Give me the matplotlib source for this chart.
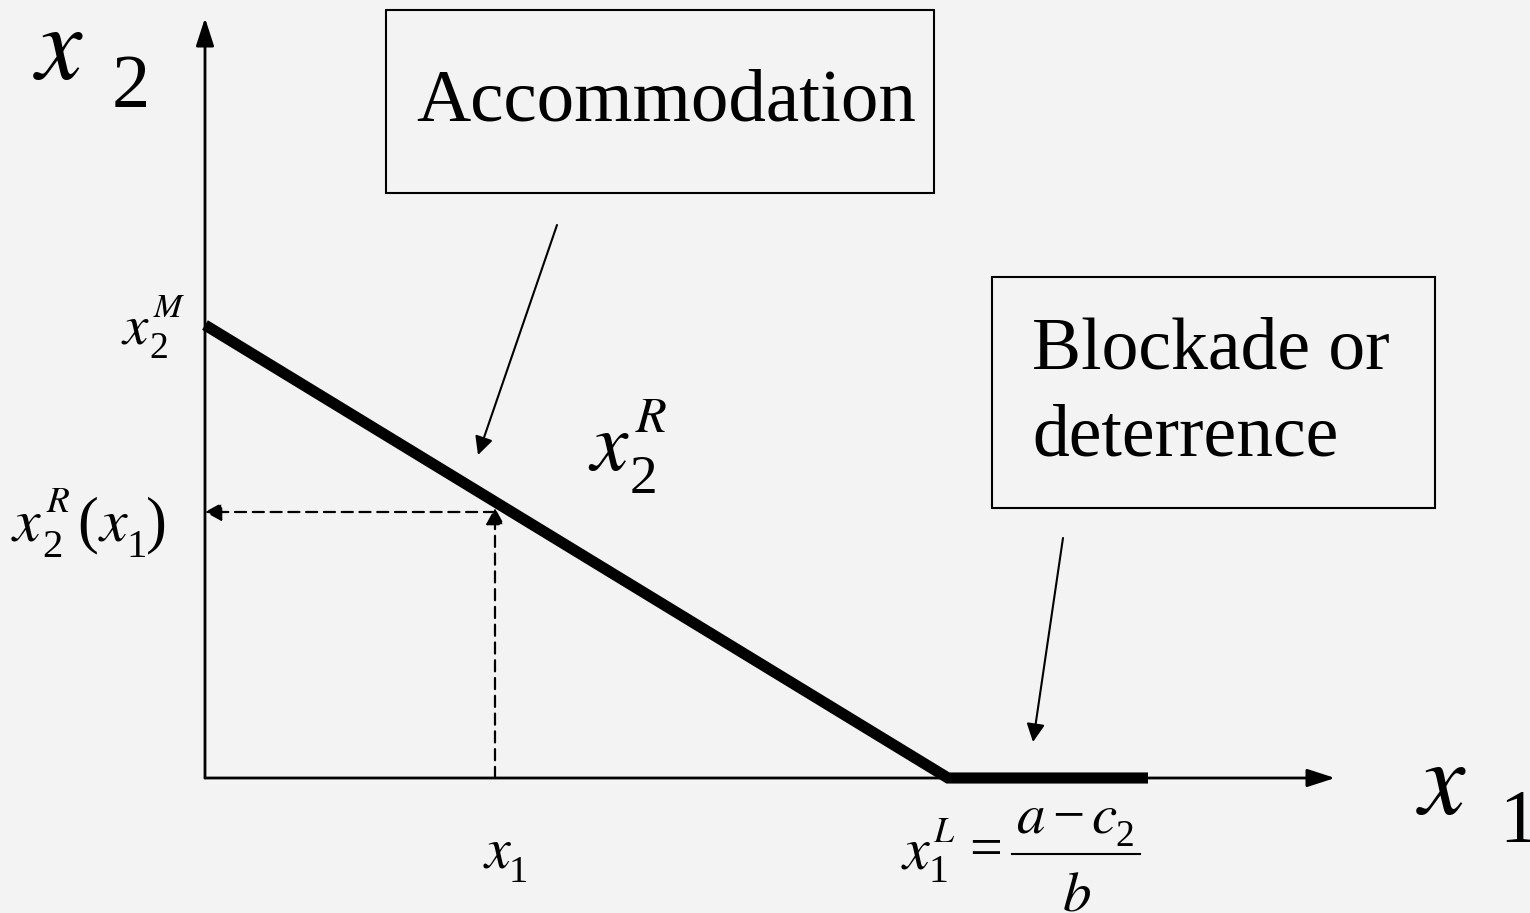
import numpy as np
import matplotlib.pyplot as plt
from matplotlib.patches import Rectangle

plt.rcParams["font.family"] = ["Liberation Serif", "DejaVu Serif"]
ITAL = dict(family="STIXGeneral", style="italic")

# reaction function x2^R(x1): kinked line (in pixel-sized chart units)
x2_monopoly = 453      # x2^M, intercept on the x2 axis
x1_limit = 743         # x1^L = (a - c2) / b
x1_end = 943           # end of the flat part
x1_chosen = 290        # example x1
x2_reply = 266         # x2^R(x1)

line_x = [0, x1_limit, x1_end]
line_y = [x2_monopoly, 0, 0]

bg = "#f3f3f3"
OX, OY = 205, 778      # pixel position of the origin


def P(px, py):
    # picture pixel -> chart units
    return px - OX, OY - py


fig = plt.figure(figsize=(15.3, 9.13), dpi=100, facecolor=bg)
ax = fig.add_axes([0, 0, 1, 1])
ax.set_facecolor(bg)
ax.set_xlim(-OX, 1530 - OX)
ax.set_ylim(OY - 913, OY)
ax.axis("off")


def sym(px, py, em, sub=None, sup=None, sub_dx=0.47, sub_dy=0.27, sup_dx=0.54, sup_dy=0.45):
    # italic x with subscript / superscript, em in pixels
    pt = em * 0.72
    x, y = P(px, py)
    ax.text(x, y, "x", fontsize=pt, ha="left", va="baseline", **ITAL)
    if sub:
        ax.text(x + sub_dx * em, y - sub_dy * em, sub, fontsize=pt * 0.66, ha="left", va="baseline")
    if sup:
        ax.text(x + sup_dx * em, y + sup_dy * em, sup, fontsize=pt * 0.6,
                ha="left", va="baseline", **ITAL)


def arrow(start, end, lw, hl, hw, ls="-"):
    ax.annotate("", xy=end, xytext=start,
                arrowprops=dict(arrowstyle=f"-|>,head_length={hl},head_width={hw}", lw=lw,
                                color="black", linestyle=ls, shrinkA=0, shrinkB=0))


# axes with arrows
arrow((0, 0), (1130, 0), 2, 1.7, 0.55)
arrow((0, 0), (0, 760), 2, 1.7, 0.55)

# reaction function
ax.plot(line_x, line_y, color="black", lw=8, solid_capstyle="butt", solid_joinstyle="miter")

# dashed guides
arrow((x1_chosen, 0), (x1_chosen, x2_reply + 4), 1.6, 1.0, 0.55, ls=(0, (5, 3)))
arrow((x1_chosen, x2_reply), (0, x2_reply), 1.6, 1.0, 0.55, ls=(0, (5, 3)))

# boxes
ax.add_patch(Rectangle(P(386, 193), 548, 183, fill=False, lw=1.5, ec="black"))
ax.add_patch(Rectangle(P(992, 508), 443, 231, fill=False, lw=1.5, ec="black"))
ax.text(*P(666, 120), "Accommodation", fontsize=54, ha="center", va="baseline")
ax.text(*P(1032, 368), "Blockade or", fontsize=53, ha="left", va="baseline")
ax.text(*P(1032, 455), "deterrence", fontsize=53, ha="left", va="baseline")

# pointer arrows
arrow(P(557, 225), P(478, 455), 1.5, 1.1, 0.55)
arrow(P(1063, 538), P(1033, 742), 1.5, 1.1, 0.55)

# axis names
ax.text(*P(36, 78), "x", fontsize=75, ha="left", va="baseline", **ITAL)
ax.text(*P(112, 107), "2", fontsize=55, ha="left", va="baseline")
ax.text(*P(1419, 813), "x", fontsize=75, ha="left", va="baseline", **ITAL)
ax.text(*P(1499, 842), "1", fontsize=55, ha="left", va="baseline")

# labels
sym(590, 470, 84, sub="2", sup="R")
sym(123, 343, 57, sub="2", sup="M")
sym(13, 540, 62, sub="2", sup="R")
ax.text(*P(77, 540), "(", fontsize=45, ha="left", va="baseline")
sym(100, 540, 62, sub="1", sub_dx=0.42)
ax.text(*P(146, 540), ")", fontsize=45, ha="left", va="baseline")
sym(485, 867, 58, sub="1", sub_dx=0.41, sub_dy=0.26)

# x1^L = (a - c2) / b
sym(903, 868, 60, sub="1", sup="L", sub_dx=0.43, sub_dy=0.24, sup_dx=0.5, sup_dy=0.43)
ax.text(*P(986, 866), "=", fontsize=42, ha="center", va="baseline")
ax.text(*P(1016, 832), "a", fontsize=41, ha="left", va="baseline", **ITAL)
ax.text(*P(1068, 832), "\u2212", fontsize=41, ha="center", va="baseline")
ax.text(*P(1091, 832), "c", fontsize=41, ha="left", va="baseline", **ITAL)
ax.text(*P(1115, 846), "2", fontsize=27, ha="left", va="baseline")
ax.plot(*zip(P(1012, 854), P(1140, 854)), color="black", lw=1.5)
ax.text(*P(1077, 911), "b", fontsize=41, ha="center", va="baseline", **ITAL)

fig.savefig("out.png", dpi=100, facecolor=bg)
